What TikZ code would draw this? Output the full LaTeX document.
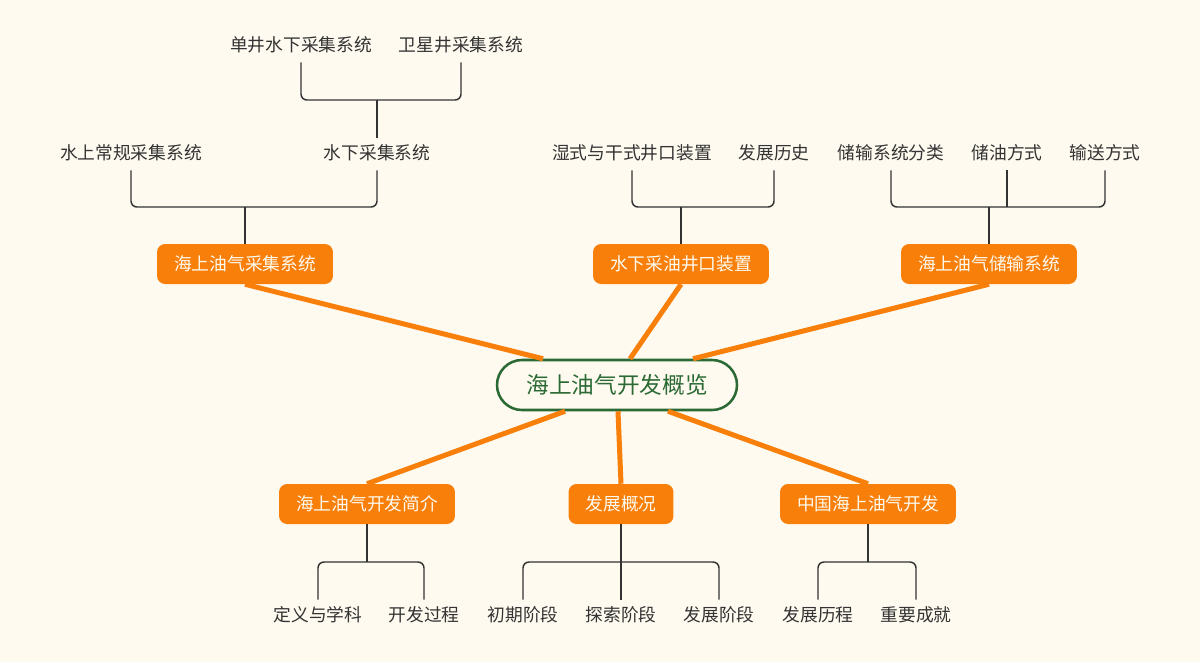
\documentclass[tikz,border=0pt]{standalone}
\usepackage{fontspec}
\setmainfont{Noto Sans CJK SC}
\usetikzlibrary{calc}
\definecolor{fondo}{HTML}{FEFAEF}
\definecolor{naranja}{HTML}{F77F0A}
\definecolor{verde}{HTML}{2B6A34}
\definecolor{gris}{HTML}{333333}
\tikzset{
	raiz/.style={rectangle, rounded corners=18.75pt, draw=verde, line width=1.9pt, fill=fondo, text=verde, minimum width=180pt, minimum height=37.5pt, font=\fontsize{17}{20}\selectfont},
	caja/.style={rectangle, rounded corners=6pt, fill=naranja, text=fondo, minimum height=30pt, inner xsep=12.75pt, font=\fontsize{13.3}{16}\selectfont},
	hoja/.style={text=gris, inner xsep=0pt, inner ysep=6pt, text height=10pt, text depth=2pt, font=\fontsize{13.3}{16}\selectfont},
	rama/.style={naranja, line width=3.75pt},
	llave/.style={gris, line width=1.1pt, rounded corners=4.5pt}
}
\begin{document}
\begin{tikzpicture}[x=0.75pt, y=-0.75pt]

\fill[fondo] (0,0) rectangle (1200,662);
\useasboundingbox (0,0) rectangle (1200,662);

% Nodo central y ramas
\node[raiz] (R) at (617,385) {海上油气开发概览};

\node[caja] (T1) at (245,264) {海上油气采集系统};
\node[caja] (T2) at (681,264) {水下采油井口装置};
\node[caja] (T3) at (989,264) {海上油气储输系统};
\node[caja] (B1) at (367,504) {海上油气开发简介};
\node[caja] (B2) at (621,504) {发展概况};
\node[caja] (B3) at (868,504) {中国海上油气开发};

\draw[rama] ($(R.north)+(-74,0)$) -- (T1.south);
\draw[rama] ($(R.north)+(13,0)$) -- (T2.south);
\draw[rama] ($(R.north)+(76,0)$) -- (T3.south);
\draw[rama] ($(R.south)+(-52,0)$) -- (B1.north);
\draw[rama] ($(R.south)+(1,0)$) -- (B2.north);
\draw[rama] ($(R.south)+(51,0)$) -- (B3.north);

% Hojas de arriba
\foreach \x/\t [count=\i] in {301/单井水下采集系统, 461/卫星井采集系统}
	\node[hoja] (h0\i) at (\x,46) {\t};
\foreach \x/\t [count=\i] in {131/水上常规采集系统, 377/水下采集系统}
	\node[hoja] (h1\i) at (\x,154) {\t};
\foreach \x/\t [count=\i] in {632/湿式与干式井口装置, 774/发展历史}
	\node[hoja] (h2\i) at (\x,154) {\t};
\foreach \x/\t [count=\i] in {891/储输系统分类, 1007/储油方式, 1105/输送方式}
	\node[hoja] (h3\i) at (\x,154) {\t};

% Hojas de abajo
\foreach \x/\t [count=\i] in {318/定义与学科, 424/开发过程}
	\node[hoja] (h4\i) at (\x,616) {\t};
\foreach \x/\t [count=\i] in {523/初期阶段, 621/探索阶段, 719/发展阶段}
	\node[hoja] (h5\i) at (\x,616) {\t};
\foreach \x/\t [count=\i] in {818/发展历程, 916/重要成就}
	\node[hoja] (h6\i) at (\x,616) {\t};

% Llaves
\coordinate (k0) at (377,100);
\coordinate (k1) at (245,207);
\coordinate (k2) at (681,207);
\coordinate (k3) at (989,207);
\coordinate (k4) at (367,562);
\coordinate (k5) at (621,562);
\coordinate (k6) at (868,562);

\draw[llave] (h12.north) -- (k0);
\draw[llave] (h01.south) |- (k0) -| (h02.south);
\draw[llave] (T1.north) -- (k1);
\draw[llave] (h11.south) |- (k1) -| (h12.south);
\draw[llave] (T2.north) -- (k2);
\draw[llave] (h21.south) |- (k2) -| (h22.south);
\draw[llave] (T3.north) -- (k3);
\draw[llave] (h31.south) |- (k3) -| (h33.south);
\draw[llave] (h32.south) -- (h32.south |- k3);

\draw[llave] (B1.south) -- (k4);
\draw[llave] (h41.north) |- (k4) -| (h42.north);
\draw[llave] (B2.south) -- (k5);
\draw[llave] (h51.north) |- (k5) -| (h53.north);
\draw[llave] (h52.north) -- (h52.north |- k5);
\draw[llave] (B3.south) -- (k6);
\draw[llave] (h61.north) |- (k6) -| (h62.north);

\end{tikzpicture}
\end{document}
